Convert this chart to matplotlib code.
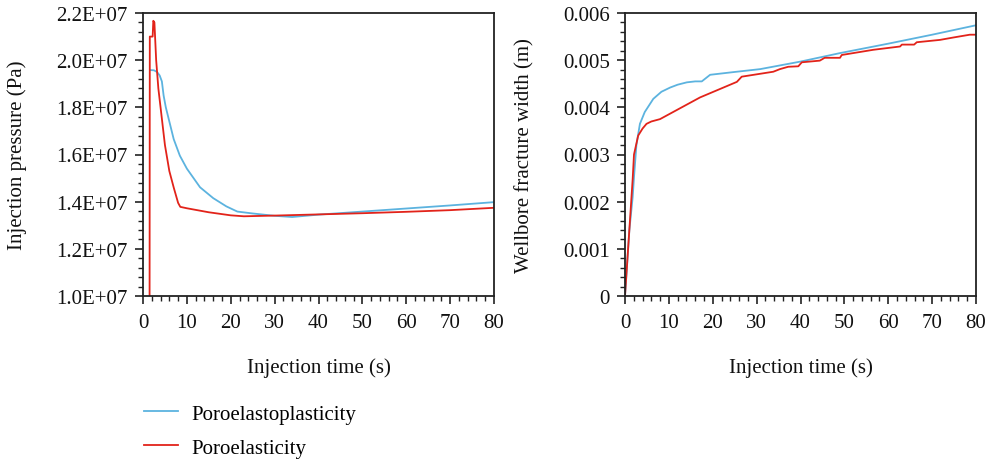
import matplotlib
matplotlib.use("Agg")
import matplotlib.pyplot as plt
from matplotlib.ticker import MultipleLocator, FuncFormatter

plt.rcParams['font.family'] = ['Liberation Serif', 'DejaVu Serif']

# ---------------- data ----------------
# Left: injection pressure (Pa) vs time (s)
p_plastic_t = [1.6, 2.5, 3.2, 3.8, 4.3, 4.7, 5.2, 6.0, 7.0, 8.4, 10, 13, 16, 19, 21.5, 25, 30, 34, 40, 50, 60, 70, 80]
p_plastic_v = [1.958e7, 1.957e7, 1.95e7, 1.935e7, 1.91e7, 1.85e7, 1.80e7, 1.74e7, 1.665e7, 1.595e7, 1.54e7, 1.461e7,
               1.415e7, 1.38e7, 1.358e7, 1.35e7, 1.34e7, 1.335e7, 1.345e7, 1.358e7, 1.371e7, 1.384e7, 1.398e7]

p_elastic_t = [1.5, 1.55, 2.2, 2.35, 2.6, 3.0, 3.5, 4.0, 5.0, 6.0, 7.0, 8.0, 8.5, 10, 15, 20, 23, 30, 40, 50, 60, 70, 80]
p_elastic_v = [1.0e7, 2.1e7, 2.1e7, 2.167e7, 2.16e7, 2.0e7, 1.88e7, 1.80e7, 1.64e7, 1.53e7, 1.46e7, 1.395e7, 1.378e7,
               1.372e7, 1.355e7, 1.342e7, 1.338e7, 1.341e7, 1.346e7, 1.351e7, 1.357e7, 1.364e7, 1.374e7]

# Right: wellbore fracture width (m) vs time (s)
w_plastic_t = [0, 1.0, 1.75, 2.05, 2.6, 3.4, 4.5, 6.45, 8.3, 10.3, 12, 14.1, 16, 17.5, 19.4, 25, 30.8, 40, 49, 60, 70, 80]
w_plastic_v = [0, 0.0014, 0.0021, 0.00252, 0.0032, 0.00365, 0.0039, 0.00418, 0.00433, 0.00442, 0.00448, 0.00453,
               0.00455, 0.00455, 0.00469, 0.00475, 0.00481, 0.00497, 0.00515, 0.00535, 0.00554, 0.00574]

w_elastic_t = [0, 1.75, 2.05, 3.0, 4.0, 4.9, 6.0, 7.98, 17.1, 25.5, 26.6, 33.8, 35.3, 37.2, 39.5, 40.3, 44.4, 45.5,
               49.0, 49.4, 56.6, 59.2, 62.7, 63.1, 65.9, 66.5, 71.8, 74.8, 78.6, 80]
w_elastic_v = [0, 0.00248, 0.0030, 0.0034, 0.00355, 0.00365, 0.00370, 0.00375, 0.00421, 0.00454, 0.00465, 0.004755,
               0.00481, 0.00486, 0.00487, 0.004955, 0.00499, 0.00505, 0.00505, 0.00511, 0.00522, 0.00525, 0.00529,
               0.00533, 0.00533, 0.00538, 0.00543, 0.00548, 0.00554, 0.00554]

x_label = "Injection time (s)"
left_ylabel = "Injection pressure (Pa)"
right_ylabel = "Wellbore fracture width (m)"
series_names = ["Poroelastoplasticity", "Poroelasticity"]

# ---------------- style ----------------
BLUE = "#5cb3df"
RED = "#e2231a"
FS = 15
SPINE = "#222222"

fig = plt.figure(figsize=(9.88, 4.64), dpi=100)
axL = fig.add_axes([143/988, 1-297/464, 351/988, 283/464])
axR = fig.add_axes([625/988, 1-297/464, 351/988, 283/464])

lb, = axL.plot(p_plastic_t, p_plastic_v, color=BLUE, lw=1.3, label=series_names[0])
lr, = axL.plot(p_elastic_t, p_elastic_v, color=RED, lw=1.3, label=series_names[1])
axR.plot(w_plastic_t, w_plastic_v, color=BLUE, lw=1.3)
axR.plot(w_elastic_t, w_elastic_v, color=RED, lw=1.3)

axL.set_xlim(0, 80)
axL.set_ylim(1.0e7, 2.2e7)
axL.yaxis.set_major_locator(MultipleLocator(2e6))
axL.yaxis.set_minor_locator(MultipleLocator(4e5))
axL.yaxis.set_major_formatter(FuncFormatter(lambda v, p: f"{v:.1E}"))

axR.set_xlim(0, 80)
axR.set_ylim(0, 0.006)
axR.yaxis.set_major_locator(MultipleLocator(0.001))
axR.yaxis.set_minor_locator(MultipleLocator(0.0002))
axR.yaxis.set_major_formatter(FuncFormatter(lambda v, p: "0" if abs(v) < 1e-12 else f"{v:.3f}"))

for ax in (axL, axR):
    ax.xaxis.set_major_locator(MultipleLocator(10))
    ax.xaxis.set_minor_locator(MultipleLocator(2))
    ax.tick_params(which='both', direction='out', colors=SPINE, labelsize=FS, labelcolor="#111111")
    ax.tick_params(which='major', length=6, width=1.2)
    ax.tick_params(which='minor', length=3.5, width=1.0)
    ax.tick_params(axis='x', which='major', pad=6)
    ax.tick_params(axis='y', which='major', pad=5)
    for s in ax.spines.values():
        s.set_color(SPINE)
        s.set_linewidth(1.3)
    ax.set_xlabel(x_label, fontsize=FS, color="#111111")
    ax.xaxis.set_label_coords(0.5, -0.215)
    ax.xaxis.label.set_va('top')

axL.set_ylabel(left_ylabel, fontsize=FS, color="#111111")
axL.yaxis.set_label_coords(-0.33, 0.5)
axR.set_ylabel(right_ylabel, fontsize=FS, color="#111111")
axR.yaxis.set_label_coords(-0.258, 0.5)

fig.legend(handles=[lb, lr], loc='upper left', bbox_to_anchor=(144/988, 1-405/464),
           frameon=False, fontsize=FS, handlelength=1.65, handletextpad=0.6,
           labelspacing=0.7, borderpad=0, borderaxespad=0)

fig.savefig("out.png", dpi=100)
